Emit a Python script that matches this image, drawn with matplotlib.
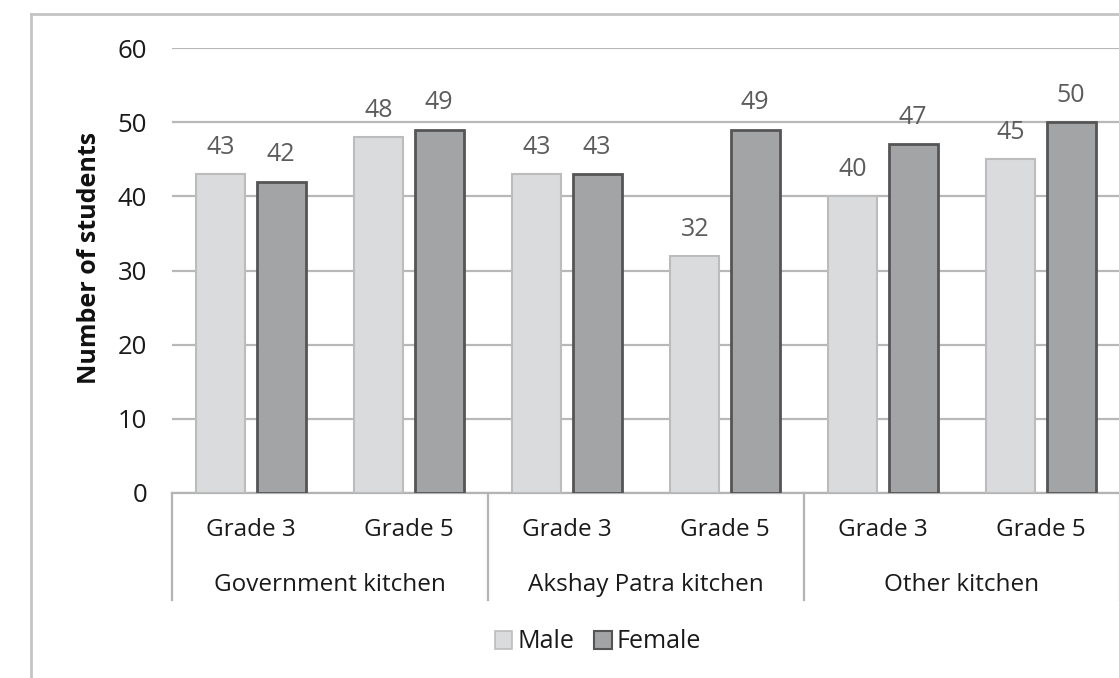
import numpy as np
import matplotlib

matplotlib.use("Agg")

import matplotlib.pyplot as plt
from matplotlib.lines import Line2D
from matplotlib.patches import Patch

plt.rcParams["font.family"] = ["Open Sans", "DejaVu Sans"]

# Data
kitchens = ["Government kitchen", "Akshay Patra kitchen", "Other kitchen"]
grades = ["Grade 3", "Grade 5"]
male = [43, 48, 43, 32, 40, 45]
female = [42, 49, 43, 49, 47, 50]
series_names = ["Male", "Female"]

W, H = 1119, 678
fig = plt.figure(figsize=(W / 100, H / 100), dpi=100)

# axes box in pixel terms
x0, x1 = 172, 1120
y0, y1 = 493, 48
ax = fig.add_axes([x0 / W, 1 - y0 / H, (x1 - x0) / W, (y0 - y1) / H])

n = len(male)
centers = np.arange(n) + 0.5
bar_w = 0.31
off = 0.19

male_bars = ax.bar(centers - off, male, width=bar_w, color="#dadbdd",
                   edgecolor="#bcbcbc", linewidth=1.5, zorder=3)
female_bars = ax.bar(centers + off, female, width=bar_w, color="#a3a4a6",
                     edgecolor="#555555", linewidth=2, zorder=3)

for bars, vals in [(male_bars, male), (female_bars, female)]:
    for b, v in zip(bars, vals):
        ax.text(b.get_x() + b.get_width() / 2, v + 1.9, str(v), ha="center",
                va="bottom", fontsize=18, color="#5c5c5c")

ax.set_xlim(0, n)
ax.set_ylim(0, 60)
ax.set_yticks(range(0, 61, 10))
ax.set_xticks([])
ax.tick_params(axis="y", length=0, pad=18, labelsize=18.5, labelcolor="#1a1a1a")
ax.yaxis.grid(True, color="#b8b8b8", linewidth=1.6, zorder=0)
ax.set_axisbelow(True)
for side in ["top", "right", "left"]:
    ax.spines[side].set_visible(False)
ax.spines["bottom"].set_color("#b4b4b4")
ax.spines["bottom"].set_linewidth(1.6)

# two-level category axis
tr = ax.get_xaxis_transform()
ax_h = y0 - y1
grade_y = -(530 - y0) / ax_h
group_y = -(585 - y0) / ax_h
sep_bottom = -(600 - y0) / ax_h
for i, c in enumerate(centers):
    ax.text(c, grade_y, grades[i % 2], transform=tr, ha="center", va="center",
            fontsize=17.5, color="#1a1a1a")
for k, name in enumerate(kitchens):
    ax.text(2 * k + 1, group_y, name, transform=tr, ha="center", va="center",
            fontsize=17.5, color="#1a1a1a")
for xs in range(0, n + 1, 2):
    ax.add_line(Line2D([xs, xs], [0, sep_bottom], transform=tr, color="#b4b4b4",
                       linewidth=1.6, clip_on=False))

fig.text(90 / W, 1 - 258 / H, "Number of students", rotation=90, ha="center",
         va="center", fontsize=18, fontweight="bold", color="#111111")

handles = [Patch(facecolor="#dadbdd", edgecolor="#bcbcbc", linewidth=1.2),
           Patch(facecolor="#a3a4a6", edgecolor="#555555", linewidth=1.5)]
fig.legend(handles, series_names, loc="center", bbox_to_anchor=(598 / W, 1 - 642 / H),
           ncol=2, frameon=False, fontsize=18, handlelength=0.7, handleheight=0.7,
           handletextpad=0.2, columnspacing=0.8, labelcolor="#1a1a1a")

# outer chart border
fig.add_artist(Line2D([31 / W, 31 / W], [0, 1 - 14 / H], transform=fig.transFigure,
                      color="#c4c4c4", linewidth=2))
fig.add_artist(Line2D([31 / W, 1], [1 - 14 / H, 1 - 14 / H], transform=fig.transFigure,
                      color="#c4c4c4", linewidth=2))

fig.savefig("out.png", dpi=100)
